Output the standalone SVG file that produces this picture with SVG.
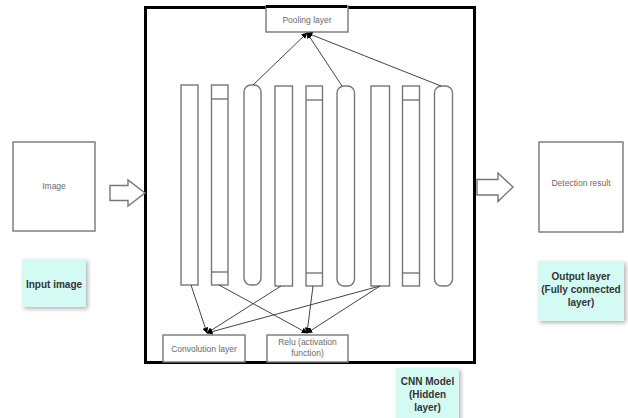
<svg xmlns="http://www.w3.org/2000/svg" width="628" height="418" viewBox="0 0 628 418">
<style>
.box{fill:#fff;stroke:#777;stroke-width:1.4}
.col{fill:#fff;stroke:#777;stroke-width:1.4}
.t{font-family:"Liberation Sans",Arial,sans-serif;font-size:8.5px;fill:#6a6a6a;text-anchor:middle}
.lbl{font-family:"Liberation Sans",Arial,sans-serif;font-size:10px;font-weight:bold;fill:#333;text-anchor:middle}
.cy{fill:#d4fbf3;stroke:none;filter:url(#sh)}
.ln{stroke:#444;stroke-width:1;fill:none;marker-end:url(#ah)}
.blk{fill:#fff;stroke:#777;stroke-width:1.4}
</style>
<defs>
<marker id="ah" viewBox="0 0 10 10" refX="9" refY="5" markerWidth="6" markerHeight="6" orient="auto" markerUnits="userSpaceOnUse">
<path d="M0,0 L10,5 L0,10 z" fill="#000"/>
</marker>
<filter id="sh" x="-20%" y="-20%" width="150%" height="150%">
<feGaussianBlur in="SourceAlpha" stdDeviation="2"/>
<feOffset dx="2" dy="2" result="b"/>
<feComponentTransfer><feFuncA type="linear" slope="0.3"/></feComponentTransfer>
<feMerge><feMergeNode/><feMergeNode in="SourceGraphic"/></feMerge>
</filter>
</defs>
<rect width="628" height="418" fill="#fff"/>
<g id="cnn-model">
<rect x="145.5" y="7.5" width="329" height="355" fill="#fff" stroke="#000" stroke-width="3"/>
</g>
<g id="input-image">
<rect class="box" x="13" y="142" width="82" height="89"/>
<text class="t" x="54" y="189">Image</text>
</g>
<g id="input-label">
<rect class="cy" x="22" y="259" width="64" height="48"/>
<text class="lbl" x="54" y="288">Input image</text>
</g>
<g id="left-arrow">
<path class="blk" d="M110,185.5 L128,185.5 L128,180 L145,193 L128,206 L128,200.5 L110,200.5 Z"/>
</g>
<g id="right-arrow">
<path class="blk" d="M477,179.5 L498,179.5 L498,173 L513,187 L498,201.5 L498,195 L477,195 Z"/>
</g>
<g id="detection-result">
<rect class="box" x="539" y="142" width="84" height="90"/>
<text class="t" x="581" y="186">Detection result</text>
</g>
<g id="output-label">
<rect class="cy" x="538" y="261" width="86" height="60"/>
<text class="lbl" x="581" y="280">Output layer</text>
<text class="lbl" x="581" y="293">(Fully connected</text>
<text class="lbl" x="581" y="306">layer)</text>
</g>
<g id="cnn-label">
<rect class="cy" x="396" y="368" width="63" height="52"/>
<text class="lbl" x="427.5" y="385">CNN Model</text>
<text class="lbl" x="427.5" y="398">(Hidden</text>
<text class="lbl" x="427.5" y="411">layer)</text>
</g>
<g id="pooling-layer">
<rect class="box" x="266" y="6" width="82" height="26"/>
<rect x="266" y="5" width="81" height="3" fill="#000"/>
<text class="t" x="307" y="23">Pooling layer</text>
</g>
<g id="convolution-layer">
<rect class="box" x="163" y="335" width="82" height="27"/>
<text class="t" x="204" y="352">Convolution layer</text>
</g>
<g id="relu-layer">
<rect class="box" x="267" y="335" width="81" height="27"/>
<text class="t" x="307.5" y="345">Relu (activation</text>
<text class="t" x="307.5" y="355.5">function)</text>
</g>
<g id="col1"><rect class="col" x="181" y="85" width="17" height="200"/></g>
<g id="col2"><rect class="col" x="211.5" y="85" width="16.5" height="200"/><line class="col" x1="211.5" y1="99" x2="228" y2="99"/><line class="col" x1="211.5" y1="272" x2="228" y2="272"/></g>
<g id="col3"><rect class="col" x="244" y="85" width="17" height="200" rx="7"/></g>
<g id="col4"><rect class="col" x="275" y="86" width="17.5" height="200"/></g>
<g id="col5"><rect class="col" x="306" y="86" width="16.5" height="200"/><line class="col" x1="306" y1="100" x2="322.5" y2="100"/><line class="col" x1="306" y1="273" x2="322.5" y2="273"/></g>
<g id="col6"><rect class="col" x="337" y="86" width="17.5" height="200" rx="7"/></g>
<g id="col7"><rect class="col" x="371" y="86" width="18.5" height="200"/></g>
<g id="col8"><rect class="col" x="402.5" y="86" width="17" height="200"/><line class="col" x1="402.5" y1="100" x2="419.5" y2="100"/><line class="col" x1="402.5" y1="273" x2="419.5" y2="273"/></g>
<g id="col9"><rect class="col" x="434.5" y="86" width="18" height="200" rx="7"/></g>
<g id="connectors">
<line class="ln" x1="253" y1="85" x2="307" y2="33"/>
<line class="ln" x1="342" y1="86" x2="307" y2="33"/>
<line class="ln" x1="441" y1="86" x2="307" y2="33"/>
<line class="ln" x1="191" y1="285" x2="207" y2="333"/>
<line class="ln" x1="281" y1="286" x2="207" y2="333"/>
<line class="ln" x1="380" y1="286" x2="207" y2="333"/>
<line class="ln" x1="219" y1="285" x2="307" y2="333"/>
<line class="ln" x1="313" y1="286" x2="307" y2="333"/>
<line class="ln" x1="380" y1="286" x2="307" y2="333"/>
</g>
</svg>
